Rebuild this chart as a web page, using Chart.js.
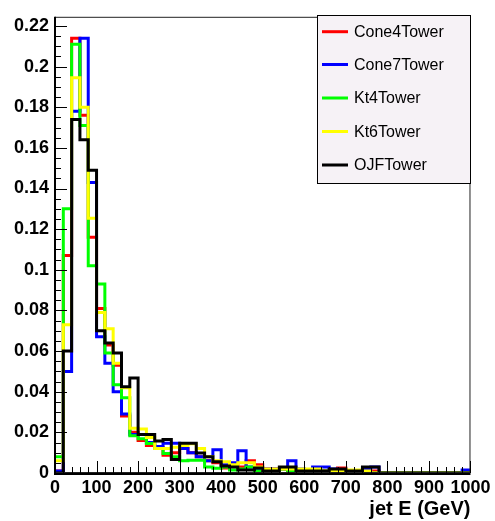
<!DOCTYPE html>
<html><head><meta charset="utf-8">
<script src="https://cdn.jsdelivr.net/npm/chart.js@4.4.0/dist/chart.umd.min.js"></script>
<style>html,body{margin:0;padding:0;background:#fff}canvas{display:block}</style>
</head><body>
<canvas id="c" width="495" height="521"></canvas>
<script>
// Bin lower edges (GeV), 20 GeV bins
const binLow = [0,20,40,60,80,100,120,140,160,180,200,220,240,260,280,300,320,340,360,380,
  400,420,440,460,480,500,520,540,560,580,600,620,640,660,680,700,720,740,760,780,
  800,820,840,860,880,900,920,940,960,980];
const xUpper = 1000;
const seriesNames = ['Cone4Tower','Cone7Tower','Kt4Tower','Kt6Tower','OJFTower'];
const seriesColors = ['#ff0000','#0000ff','#00ff00','#ffff00','#000000'];

const cone4 = [0.001,0.107,0.214,0.176,0.116,0.081,0.063,0.053,0.028,0.020,
  0.016,0.0135,0.0127,0.0087,0.010,0.012,0.010,0.008,0.006,0.005,
  0.0024,0.004,0.003,0.006,0.004,0.002,0.002,0.002,0.001,0.001,
  0.001,0.001,0.001,0.001,0.0025,0.001,0.001,0.001,0.001,0,
  0,0,0,0,0,0,0,0,0,0];
const cone7 = [0.001,0.05,0.178,0.214,0.143,0.067,0.054,0.040,0.029,0.019,
  0.019,0.015,0.013,0.0146,0.0146,0.012,0.010,0.008,0.006,0.0115,
  0.004,0.005,0.011,0.003,0.002,0.002,0.002,0.002,0.006,0.002,
  0.001,0.003,0.003,0.002,0.001,0.001,0.001,0.002,0.003,0,
  0,0,0,0,0,0,0,0,0,0.0015];
const kt4 = [0.008,0.13,0.211,0.171,0.102,0.093,0.059,0.0434,0.037,0.0183,
  0.0169,0.0145,0.012,0.0096,0.008,0.006,0.0063,0.0063,0.003,0.0023,
  0.003,0.0015,0.002,0.003,0.001,0.001,0.001,0.002,0.001,0.001,
  0.001,0.001,0.001,0.001,0.001,0,0,0,0,0,
  0,0,0,0,0,0,0,0,0,0];
const kt6 = [0.006,0.073,0.1945,0.180,0.1254,0.079,0.071,0.054,0.042,0.022,
  0.0217,0.0175,0.012,0.012,0.0127,0.0135,0.0144,0.012,0.008,0.006,
  0.0055,0.004,0.005,0.005,0.003,0.002,0.002,0.002,0.002,0.002,
  0.002,0.002,0.001,0.001,0.001,0.0015,0.0015,0.001,0,0,
  0,0,0,0,0,0,0,0,0,0];
const ojf = [0,0.060,0.174,0.164,0.149,0.070,0.064,0.059,0.0424,0.0467,
  0.019,0.019,0.0158,0.0165,0.0067,0.0146,0.0146,0.0098,0.008,0.0055,
  0.0034,0.003,0.0015,0.0015,0.0024,0.001,0.001,0.003,0.003,0.001,
  0.001,0.001,0.001,0.002,0.002,0.001,0.001,0.003,0.003,0,
  0,0,0,0,0,0,0,0,0,0];

const allSeries = [cone4, cone7, kt4, kt6, ojf];

function toSteps(vals){
  const pts = binLow.map((x,i)=>({x:x, y:vals[i]}));
  pts.push({x:xUpper, y:vals[vals.length-1]});
  return pts;
}

const FONT = "'Liberation Sans', Arial, Helvetica, sans-serif";

const framePlugin = {
  id:'frame',
  afterDraw(chart){
    const {ctx, chartArea:{left,right,top,bottom}, scales:{x,y}} = chart;
    ctx.save();
    ctx.strokeStyle = '#222'; ctx.lineWidth = 1;
    ctx.strokeRect(left+0.5, top+0.5, right-left-1, bottom-top-1);
    ctx.strokeStyle = '#000'; ctx.lineWidth = 2;
    ctx.beginPath();
    ctx.moveTo(left, top); ctx.lineTo(left, bottom+1); ctx.lineTo(right, bottom+1);
    ctx.stroke();
    ctx.lineWidth = 1;
    ctx.beginPath();
    for(let k=0;k<=44;k++){
      const py = Math.round(y.getPixelForValue(k*0.005))+0.5;
      const len = (k%4===0)?12:6;
      ctx.moveTo(left, py); ctx.lineTo(left+len, py);
    }
    for(let k=0;k<=50;k++){
      const px = Math.round(x.getPixelForValue(k*20))+0.5;
      const len = (k%5===0)?12:6;
      ctx.moveTo(px, bottom); ctx.lineTo(px, bottom-len);
    }
    ctx.stroke();
    const lx=317, ly=15, lw=153, lh=168;
    ctx.fillStyle='#f6f2f6';
    ctx.fillRect(lx,ly,lw,lh);
    ctx.strokeStyle='#000'; ctx.lineWidth=1;
    ctx.strokeRect(lx+0.5,ly+0.5,lw,lh);
    ctx.font = "16px "+FONT;
    ctx.textBaseline='middle'; ctx.textAlign='left';
    const rows=[31.7,64.5,98,131.5,165];
    chart.data.datasets.forEach((ds,i)=>{
      ctx.strokeStyle=ds.borderColor; ctx.lineWidth=3;
      ctx.beginPath(); ctx.moveTo(322,rows[i]); ctx.lineTo(348,rows[i]); ctx.stroke();
      ctx.fillStyle='#000';
      ctx.fillText(ds.label, 354, rows[i]+1);
    });
    ctx.restore();
  }
};

new Chart(document.getElementById('c'), {
  type:'line',
  data:{
    datasets: allSeries.map((vals,i)=>({
      label: seriesNames[i],
      data: toSteps(vals),
      borderColor: seriesColors[i],
      backgroundColor: seriesColors[i],
      borderWidth: 3,
      stepped: 'before',
      pointRadius: 0,
      fill: false,
      order: 4-i
    }))
  },
  options:{
    responsive:false,
    animation:false,
    devicePixelRatio:1,
    layout:{padding:{top:8, right:21, left:0, bottom:0}},
    plugins:{legend:{display:false}, tooltip:{enabled:false}},
    scales:{
      x:{
        type:'linear', min:0, max:1000,
        grid:{display:false, drawTicks:false},
        border:{display:false},
        ticks:{stepSize:100, autoSkip:false, maxRotation:0, padding:4.5, color:'#000',
          font:{family:FONT, size:18, weight:'bold'},
          callback:(v)=>String(v)},
        title:{display:true, text:'jet E (GeV)', align:'end', color:'#000',
          font:{family:FONT, size:20, weight:'bold'}, padding:{top:0,bottom:0}},
        afterFit(s){ s.height = 48; }
      },
      y:{
        type:'linear', min:0, max:0.2245,
        grid:{display:false, drawTicks:false},
        border:{display:false},
        ticks:{stepSize:0.02, includeBounds:false, padding:6, color:'#000',
          font:{family:FONT, size:18, weight:'bold'},
          callback:(v)=>String(+v.toFixed(2))},
        afterFit(s){ s.width = 55; }
      }
    }
  },
  plugins:[framePlugin]
});
</script>
</body></html>
